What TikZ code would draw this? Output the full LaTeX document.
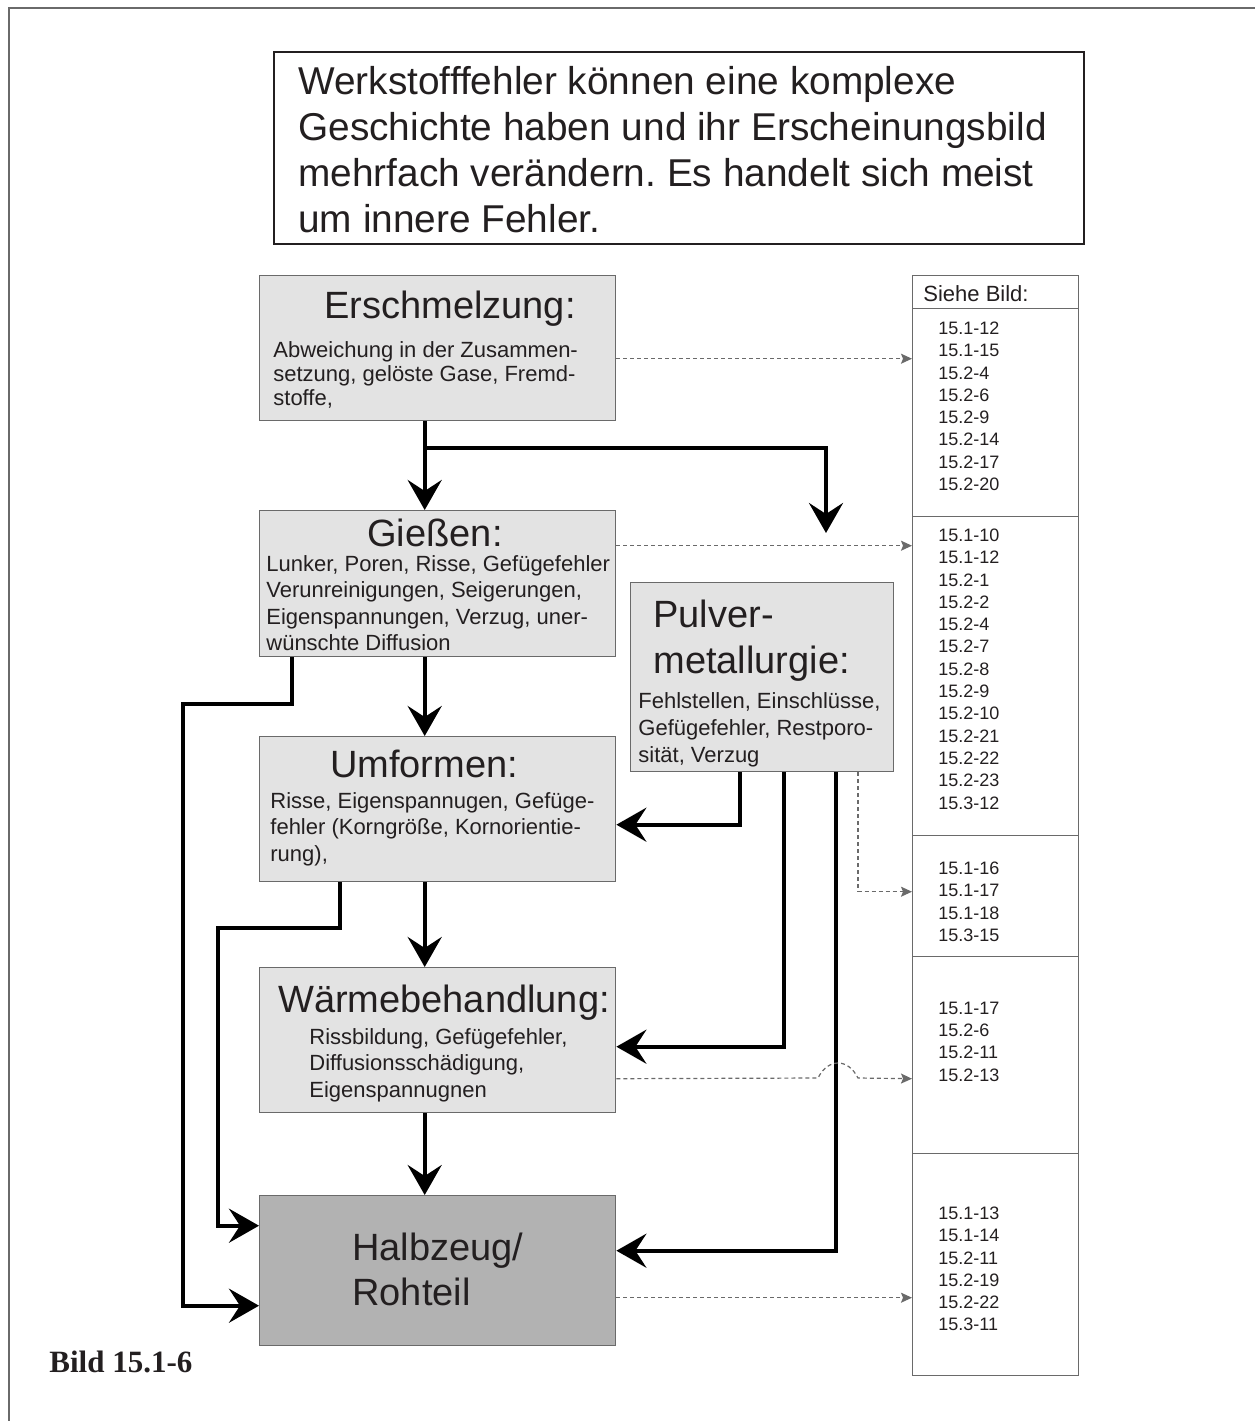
\documentclass[tikz,border=0pt]{standalone}
\usepackage{fontspec}
\setmainfont{Liberation Sans}
\newfontfamily\captionfont{Liberation Serif}
\usetikzlibrary{arrows.meta}
\frenchspacing

\definecolor{boxgray}{HTML}{E3E3E3}
\definecolor{rawgray}{HTML}{B2B2B2}
\definecolor{edgegray}{HTML}{6A6A6A}
\definecolor{inkgray}{HTML}{231F20}

\tikzset{
  stage/.style={draw=edgegray, fill=boxgray, line width=0.7pt, anchor=north west,
    inner sep=0pt, minimum width=178pt},
  reftab/.style={draw=edgegray, line width=0.7pt, anchor=north west,
    inner sep=0pt, minimum width=83pt},
  headtxt/.style={anchor=north west, inner sep=0pt, align=left, text=inkgray,
    font=\fontsize{19}{23}\selectfont},
  bodytxt/.style={anchor=north west, inner sep=0pt, align=left, text=inkgray,
    font=\fontsize{11}{13.25}\selectfont},
  reftxt/.style={anchor=north west, inner sep=0pt, align=left, text=inkgray,
    font=\fontsize{9}{11.15}\selectfont},
  flow/.style={line width=2pt, -{Stealth[length=15pt,width=17pt,inset=5.5pt]}},
  seeref/.style={edgegray, line width=0.6pt, dash pattern=on 2pt off 1.5pt,
    -{Stealth[length=5.5pt,width=5pt,inset=1pt]}},
}

\begin{document}
\begin{tikzpicture}[x=0.5pt,y=-0.5pt]
    \useasboundingbox (0,0) rectangle (1255,1421);

    % Frame
    \draw[edgegray, line width=1pt] (9,1421) -- (9,8) -- (1255,8);

    % Intro
    \node[draw=inkgray, line width=0.8pt, anchor=north west, inner sep=0pt,
      minimum width=405pt, minimum height=96pt] (intro) at (273,51) {};
    \node[headtxt, font=\fontsize{19.4}{23}\selectfont] (introtxt) at (298,66)
      {Werkstofffehler können eine komplexe\\
      Geschichte haben und ihr Erscheinungsbild\\
      mehrfach verändern. Es handelt sich meist\\
      um innere Fehler.};

    % Stages
    \node[stage, minimum height=72.5pt] (ersch) at (259,275) {};
    \node[headtxt, anchor=base] (erschT) at (450,318) {Erschmelzung:};
    \node[bodytxt, font=\fontsize{11}{12}\selectfont] (erschB) at (273,341)
      {Abweichung in der Zusammen-\\setzung, gelöste Gase, Fremd-\\stoffe,};

    \node[stage, minimum height=73pt] (giess) at (259,510) {};
    \node[headtxt, anchor=base] (giessT) at (435,546) {Gießen:};
    \node[bodytxt] (giessB) at (266,555)
      {Lunker, Poren, Risse, Gefügefehler\\Verunreinigungen, Seigerungen,\\
       Eigenspannungen, Verzug, uner-\\wünschte Diffusion};

    \node[stage, minimum height=72.5pt] (umf) at (259,736) {};
    \node[headtxt, anchor=base] (umfT) at (424,777) {Umformen:};
    \node[bodytxt] (umfB) at (270,792)
      {Risse, Eigenspannugen, Gefüge-\\fehler (Korngröße, Kornorientie-\\rung),};

    \node[stage, minimum height=72.5pt] (waerme) at (259,967) {};
    \node[headtxt, anchor=base] (waermeT) at (444,1012) {Wärmebehandlung:};
    \node[bodytxt] (waermeB) at (309,1028)
      {Rissbildung, Gefügefehler,\\Diffusionsschädigung,\\Eigenspannugnen};

    \node[stage, fill=rawgray, minimum height=75pt] (halb) at (259,1195) {};
    \node[headtxt, font=\fontsize{19}{22.5}\selectfont] (halbT) at (352,1233)
      {Halbzeug/\\Rohteil};

    \node[stage, minimum width=131.5pt, minimum height=94.5pt] (pulver) at (630,582) {};
    \node[headtxt] (pulverT) at (653,600) {Pulver-\\metallurgie:};
    \node[bodytxt, font=\fontsize{11}{13.5}\selectfont] (pulverB) at (638,692)
      {Fehlstellen, Einschlüsse,\\Gefügefehler, Restporo-\\sität, Verzug};

    % Reference column
    \node[reftab, minimum height=16.5pt] (head) at (912,275) {};
    \node[reftxt, font=\fontsize{11}{13}\selectfont] (headT) at (923,285) {Siehe Bild:};
    \node[reftab, minimum height=104pt] (sec1) at (912,308) {};
    \node[reftab, minimum height=159.5pt] (sec2) at (912,516) {};
    \node[reftab, minimum height=60.5pt] (sec3) at (912,835) {};
    \node[reftab, minimum height=98.5pt] (sec4) at (912,956) {};
    \node[reftab, minimum height=111pt] (sec5) at (912,1153) {};

    \node[reftxt] (sec1T) at (938,321.5) {15.1-12\\15.1-15\\15.2-4\\15.2-6\\15.2-9\\
      15.2-14\\15.2-17\\15.2-20};
    \node[reftxt] (sec2T) at (938,528.5) {15.1-10\\15.1-12\\15.2-1\\15.2-2\\15.2-4\\
      15.2-7\\15.2-8\\15.2-9\\15.2-10\\15.2-21\\15.2-22\\15.2-23\\15.3-12};
    \node[reftxt] (sec3T) at (938,861.5) {15.1-16\\15.1-17\\15.1-18\\15.3-15};
    \node[reftxt] (sec4T) at (938,1001.5) {15.1-17\\15.2-6\\15.2-11\\15.2-13};
    \node[reftxt] (sec5T) at (938,1206.5) {15.1-13\\15.1-14\\15.2-11\\15.2-19\\
      15.2-22\\15.3-11};

    % Caption
    \node[anchor=west, inner sep=0pt, text=inkgray,
      font=\captionfont\bfseries\fontsize{15.5}{18}\selectfont] (caption) at (49,1362)
      {Bild 15.1-6};

    % Process flow
    \coordinate (branch) at (424,448);
    \coordinate (pmtop) at (826,533);
    \draw[flow] ([xshift=-6.5pt]ersch.south) -- ([xshift=-6.5pt]giess.north);
    \draw[flow] (branch) -| (pmtop);
    \draw[flow] ([xshift=-6.5pt]giess.south) -- ([xshift=-6.5pt]umf.north);
    \draw[flow] ([xshift=-6.5pt]umf.south) -- ([xshift=-6.5pt]waerme.north);
    \draw[flow] ([xshift=-6.5pt]waerme.south) -- ([xshift=-6.5pt]halb.north);
    \draw[flow] ([xshift=16.5pt]giess.south west) -- ++(0,47) -- ++(-109,0)
      |- ([yshift=-17.5pt]halb.west);
    \draw[flow] ([xshift=40.5pt]umf.south west) -- ++(0,46) -- ++(-122,0)
      |- ([yshift=22.5pt]halb.west);
    \draw[flow] ([xshift=55pt]pulver.south west) |- ([yshift=-7.75pt]umf.east);
    \draw[flow] ([xshift=77pt]pulver.south west) |- ([yshift=-3.25pt]waerme.east);
    \draw[flow] ([xshift=103pt]pulver.south west) |- ([yshift=10pt]halb.east);

    % References
    \coordinate (humpa) at (818,1078);
    \coordinate (humpb) at (858,1078);
    \draw[seeref] ([yshift=-5.25pt]ersch.east) -- ([yshift=-5.25pt]ersch.east -| sec1.west);
    \draw[seeref] ([yshift=19pt]giess.east) -- ([yshift=19pt]giess.east -| sec2.west);
    \draw[seeref] ([xshift=114pt]pulver.south west) |- ([yshift=2.25pt]sec3.west);
    \draw[seeref] ([yshift=-19.25pt]waerme.east) -- (humpa)
      .. controls (828,1058) and (848,1058) .. (humpb)
      -- ([yshift=-19.25pt]waerme.east -| sec4.west);
    \draw[seeref] ([yshift=-13.5pt]halb.east) -- ([yshift=-13.5pt]halb.east -| sec5.west);
\end{tikzpicture}
\end{document}
